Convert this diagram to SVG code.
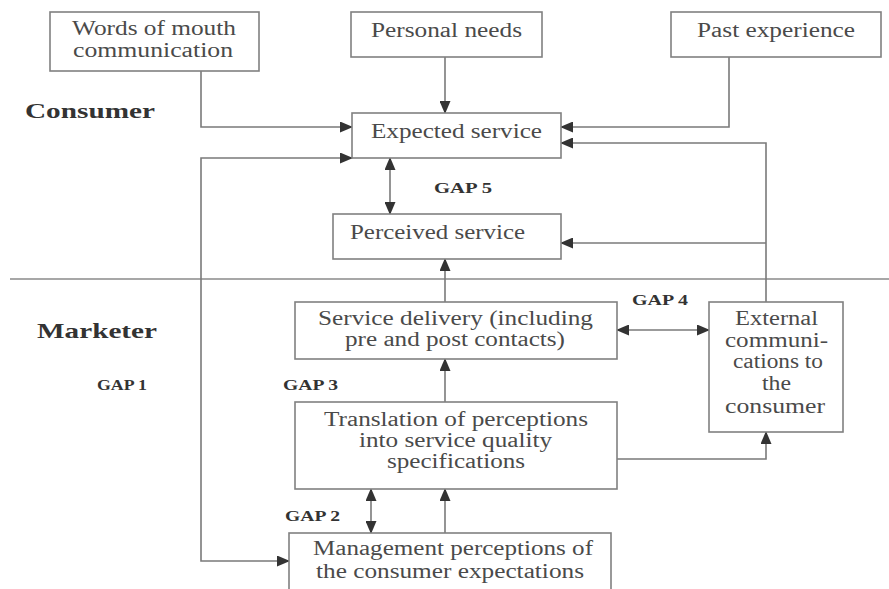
<svg xmlns="http://www.w3.org/2000/svg" width="889" height="589" viewBox="0 0 889 589">
<style>
  .box { fill: #fff; stroke: #808080; stroke-width: 1.6; }
  .t { font-family: "Liberation Serif", "Times New Roman", serif; font-size: 20px; fill: #4a4a4a; }
  .lbl { font-family: "Liberation Serif", "Times New Roman", serif; font-weight: bold; fill: #333; }
  .conn { fill: none; stroke: #7a7a7a; stroke-width: 1.6; }
  .sep { stroke: #8a8a8a; stroke-width: 1.6; }
</style>
<defs>
  <marker id="ah" markerUnits="userSpaceOnUse" markerWidth="13" markerHeight="11" refX="12" refY="5.5" orient="auto-start-reverse">
    <path d="M0,0 L13,5.5 L0,11 z" fill="#333"/>
  </marker>
</defs>
<rect width="889" height="589" fill="#fff"/>
<line class="sep" x1="10" y1="279" x2="889" y2="279"/>
<text class="lbl" x="25" y="118" font-size="22" textLength="130" lengthAdjust="spacingAndGlyphs">Consumer</text>
<text class="lbl" x="37" y="338" font-size="22" textLength="120" lengthAdjust="spacingAndGlyphs">Marketer</text>
<g id="connectors">
  <path class="conn" d="M201,71 V127 H352" marker-end="url(#ah)"/>
  <path class="conn" d="M445,57 V113" marker-end="url(#ah)"/>
  <path class="conn" d="M729,57 V127 H561" marker-end="url(#ah)"/>
  <path class="conn" d="M766,302 V143 H561" marker-end="url(#ah)"/>
  <path class="conn" d="M766,243 H561" marker-end="url(#ah)"/>
  <path class="conn" d="M352,158 H201 V561 H289" marker-start="url(#ah)" marker-end="url(#ah)"/>
  <path class="conn" d="M390,158 V214" marker-start="url(#ah)" marker-end="url(#ah)"/>
  <path class="conn" d="M445,302 V259" marker-end="url(#ah)"/>
  <path class="conn" d="M617,330 H709" marker-start="url(#ah)" marker-end="url(#ah)"/>
  <path class="conn" d="M445,402 V359" marker-end="url(#ah)"/>
  <path class="conn" d="M617,459 H766 V432" marker-end="url(#ah)"/>
  <path class="conn" d="M371,489 V533" marker-start="url(#ah)" marker-end="url(#ah)"/>
  <path class="conn" d="M445,533 V489" marker-end="url(#ah)"/>
  <text class="lbl" x="434" y="193" font-size="14" textLength="58" lengthAdjust="spacingAndGlyphs">GAP 5</text>
  <text class="lbl" x="97" y="390" font-size="14" textLength="50" lengthAdjust="spacingAndGlyphs">GAP 1</text>
  <text class="lbl" x="283" y="390" font-size="14" textLength="55" lengthAdjust="spacingAndGlyphs">GAP 3</text>
  <text class="lbl" x="285" y="521" font-size="14" textLength="55" lengthAdjust="spacingAndGlyphs">GAP 2</text>
  <text class="lbl" x="632" y="305" font-size="14" textLength="56" lengthAdjust="spacingAndGlyphs">GAP 4</text>
</g>
<g id="words">
  <rect class="box" x="50" y="12" width="209" height="59"/>
  <text class="t" x="72" y="35" textLength="164" lengthAdjust="spacingAndGlyphs">Words of mouth</text>
  <text class="t" x="73" y="57" textLength="160" lengthAdjust="spacingAndGlyphs">communication</text>
</g>
<g id="personal">
  <rect class="box" x="351" y="12" width="191" height="45"/>
  <text class="t" x="371" y="37" textLength="151" lengthAdjust="spacingAndGlyphs">Personal needs</text>
</g>
<g id="past">
  <rect class="box" x="671" y="12" width="210" height="45"/>
  <text class="t" x="697" y="37" textLength="158" lengthAdjust="spacingAndGlyphs">Past experience</text>
</g>
<g id="expected">
  <rect class="box" x="352" y="113" width="209" height="45"/>
  <text class="t" x="371" y="138" textLength="171" lengthAdjust="spacingAndGlyphs">Expected service</text>
</g>
<g id="perceived">
  <rect class="box" x="333" y="214" width="228" height="45"/>
  <text class="t" x="350" y="239" textLength="175" lengthAdjust="spacingAndGlyphs">Perceived service</text>
</g>
<g id="delivery">
  <rect class="box" x="295" y="302" width="322" height="57"/>
  <text class="t" x="318" y="325" textLength="275" lengthAdjust="spacingAndGlyphs">Service delivery (including</text>
  <text class="t" x="345" y="346" textLength="220" lengthAdjust="spacingAndGlyphs">pre and post contacts)</text>
</g>
<g id="external">
  <rect class="box" x="709" y="302" width="134" height="130"/>
  <text class="t" x="735" y="325" textLength="83" lengthAdjust="spacingAndGlyphs">External</text>
  <text class="t" x="725" y="347" textLength="103" lengthAdjust="spacingAndGlyphs">communi-</text>
  <text class="t" x="733" y="368" textLength="90" lengthAdjust="spacingAndGlyphs">cations to</text>
  <text class="t" x="762" y="390" textLength="29" lengthAdjust="spacingAndGlyphs">the</text>
  <text class="t" x="725" y="413" textLength="100" lengthAdjust="spacingAndGlyphs">consumer</text>
</g>
<g id="translation">
  <rect class="box" x="295" y="402" width="322" height="87"/>
  <text class="t" x="324" y="426" textLength="264" lengthAdjust="spacingAndGlyphs">Translation of perceptions</text>
  <text class="t" x="359" y="447" textLength="193" lengthAdjust="spacingAndGlyphs">into service quality</text>
  <text class="t" x="387" y="468" textLength="138" lengthAdjust="spacingAndGlyphs">specifications</text>
</g>
<g id="management">
  <rect class="box" x="289" y="533" width="322" height="70"/>
  <text class="t" x="313" y="555" textLength="280" lengthAdjust="spacingAndGlyphs">Management perceptions of</text>
  <text class="t" x="316" y="578" textLength="268" lengthAdjust="spacingAndGlyphs">the consumer expectations</text>
</g>
</svg>
